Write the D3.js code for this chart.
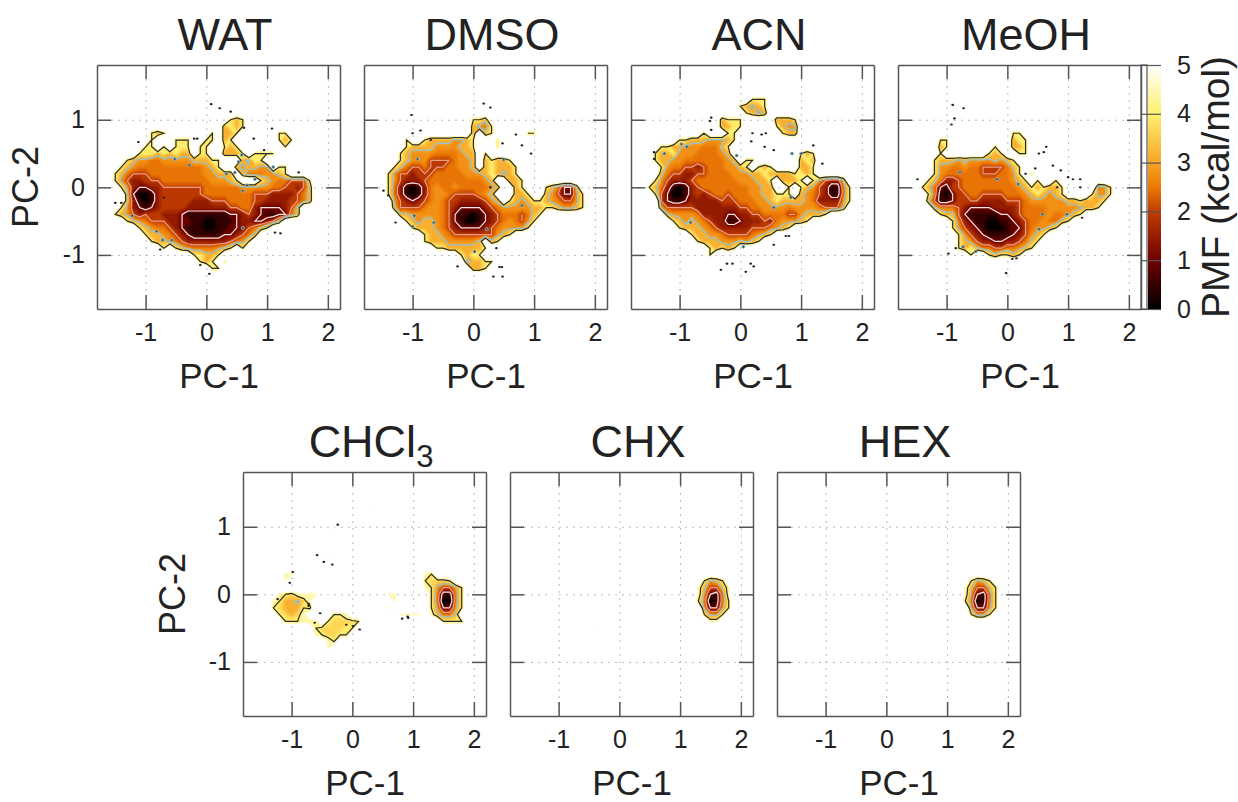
<!DOCTYPE html>
<html>
<head>
<meta charset="utf-8">
<script src="https://cdn.jsdelivr.net/npm/d3@7"></script>
<style>
body { margin: 0; background: #fff; }
text { font-family: "Liberation Sans", Arial, sans-serif; fill: #222; }
</style>
</head>
<body>
<svg id="chart" width="1238" height="802"></svg>
<script>
// PMF, one string per row from PC-2 = 1.4 down, step 0.1.
// first char is PC-1 = -1.7, step 0.1. char is a hex index in pmfLevels, "." = nothing sampled
var pmfLevels = [0, 0.5, 1, 1.5, 2, 2.5, 2.8, 3.2, 4, 4.5, 3.7];

var wat = ["", "", "", "",
	".....................878",
	"....................7878",
	"........878.......8.778......88",
	"........8...888..88.78.......878",
	".......88.8.888.88..878.......8",
	"......888787877.88..7778.8888",
	"....8766556666677788...7688",
	"...87655555555555678..767766.88",
	"..87544455555555566777.75556678",
	"..864334445555555566678...876554448",
	"...86322334444444555555666665544347",
	"....7200134444444555555554443333457",
	"....7310134444433344455554433334457",
	"...863212344443333333445532222347",
	"..8764344433321111111223432112257",
	"....87654443322110011123322347",
	"......8765543211100112234578",
	".......8776543211111223457",
	"........87765433333334568",
	"..........8.8765555678.8",
	"...............88778",
	"................878.8",
	"..................88"];

var dmso = ["", "", "", "",
	".................887",
	".................7658",
	".................7.78.....88",
	"......8..877776678...8",
	"......877776666778...8",
	".....8766665555677.8",
	".....8766644445667.78778",
	"....87544544455667.787778",
	"...8644344455555666787678",
	"...864333455555555567..778",
	"...8531013565565555567..78...875227",
	"...853101356654444567...778..7642268",
	"....643234565443333467.8767887654468",
	"....74444566543222234566666778876678",
	".....776666654211012345554578",
	"......8767765421001234565468",
	".......87776543222234566668",
	".........877654444444678",
	".........8777666667.78",
	"...........887777778",
	"...............8788",
	"................67788",
	".................778"];

var acn = ["",
	"...................888",
	".................87678",
	"..................8767",
	"..............7888.....7778",
	"..............7788.....8766",
	"...........8...88.......877",
	".......8877766678",
	"....887766655578",
	"...8778666555567...........878",
	"...87766555555567.88.......787",
	"....865544345556678.878....778",
	"....75443344555566677877778878",
	"...86433345555555666778.7778.864337",
	"..875310134555555556677..8.876431158",
	"...84200134345545556677888.765431158",
	"....42112333334445556678777765333368",
	"....6444443333333445566665666654447",
	".....766665333322334455554467778",
	"......87676543311233343566678",
	".......8777654333334445678",
	".........87766544445678",
	"..........87776667678",
	"............87878",
	"............8"];

var meoh = ["", "", "", "", "", "",
	"..................88",
	"......88..........788",
	"......78.......8..778",
	"......8.......878..88",
	".....87776766667678",
	".....866556554444578",
	".....865555554445568.8",
	"....87533455555555678.8..8",
	"...875214455555555567878778.....568",
	"....85102445544445556787678....8668",
	"....741124444333344456666667787778",
	".....7555432222333345555666666778",
	"......877421111122345555655678",
	"........85321100112345565578",
	"........864321000122456678",
	".........864321111234678",
	".........87643322334578",
	".........8787554455678",
	"...........8..878878"];

var chcl3 = ["",
	"....................9",
	"", "",
	"..............9",
	"", "", "",
	".............9",
	"", "",
	"......99.....................98",
	"......9......................8aaa8",
	".............................9864468",
	".....98a9999...........99.....851158",
	"....98776a9.............9.....850058",
	"....8a7778a............9......862268",
	".....8a7a9....889........9999.97557",
	"......888989.8aaaa8.............8888",
	"...........8aaaa88",
	"...........98aa88",
	".............98",
	".............9"];

var chx = ["", "", "", "", "", "", "", "", "", "", "", "",
	"...............................8678",
	"..............................974479",
	"......9.......................962159",
	"..............................850158",
	"...............................62268",
	"...............................8668",
	"................................99",
	".............9"];

var hex = ["", "", "", "", "", "", "", "", "", "", "", "",
	"...............................8678",
	"..............................974478",
	"..............................962158",
	"..............................850158",
	"...............................62268",
	"...............................8668"];

// little isolated dots outside the main basin [PC-1, PC-2]
var watSpecks = [[0.22,1.17],[0.4,1.12],[0.08,1.23],[1.08,0.87],[0.95,0.55],[1.52,0.22],[-1.4,-0.23],[-1.5,-0.23],[-0.7,-0.15],[0.05,-1.28],[-0.1,-1.15],[-0.76,-0.92],[1.13,-0.67],[1.22,-0.68],[0.62,0.88],[0.78,0.72],[-1.12,0.67],[-0.2,0.72],[-0.15,0.72]];
var dmsoSpecks = [[0.17,1.24],[0.28,1.18],[-1.02,1.07],[-1.0,0.8],[-0.7,0.7],[-1.48,-0.05],[-1.4,-0.12],[-0.26,-1.17],[0.43,-1.18],[0.47,-1.18],[0.33,-1.32],[0.48,-1.32],[0.7,0.78],[0.48,0.65],[0.8,0.62],[0.95,0.5],[0.28,0.0],[0.38,-0.9],[-1.28,-0.52],[-0.87,0.84]];
var acnSpecks = [[-0.48,1.03],[-0.5,0.98],[-0.48,0.85],[0.2,0.8],[0.35,0.78],[0.42,0.8],[0.18,0.68],[0.4,0.6],[0.55,0.55],[-1.42,0.52],[-1.42,0.42],[-0.22,-1.13],[-0.13,-1.13],[0.17,-1.13],[0.22,-1.17],[0.09,-1.25],[-0.32,-1.22],[0.55,-0.85],[0.75,-0.72],[0.8,-0.72],[1.35,0.35],[1.2,0.62]];
var meohSpecks = [[-0.87,1.02],[-0.92,0.93],[-0.72,1.17],[-0.9,1.22],[0.6,0.52],[0.64,0.6],[0.75,0.32],[0.52,0.5],[0.46,0.28],[0.3,0.2],[0.88,0.25],[1.0,0.15],[1.2,0.12],[1.08,0.12],[-0.85,-0.9],[-0.97,-0.98],[-0.02,-1.27],[0.15,-1.05],[0.08,-1.06],[1.23,-0.45],[0.82,0.0],[1.2,0.0],[-1.48,0.12]];
var chcl3Specks = [[-0.24,1.03],[-0.58,0.58],[-0.47,0.48],[-0.33,0.44],[-0.98,0.33],[-1.03,0.17],[0.92,-0.35],[0.91,-0.33],[-0.72,-0.14],[-0.72,-0.17],[-0.53,-0.28],[-0.62,-0.42],[-0.1,-0.45],[0.01,-0.47],[0.12,-0.52],[-1.23,-0.07],[0.82,-0.36]];
var noSpecks = [];

// ringed dots inside the basins
var watRings = [[-0.52,0.42],[0.58,0.48],[0.53,0.38],[0.47,0.22],[0.33,0.2],[-0.28,0.33],[0.8,0.12],[0.67,0.03],[0.6,-0.05],[-1.22,-0.42],[-0.82,-0.65],[-0.57,-0.78],[-0.72,-0.78],[0.6,-0.6],[1.1,0.3]];
var dmsoRings = [[-0.92,0.42],[-0.65,-0.52],[-0.97,-0.42],[-1.0,-0.58],[0.8,-0.27],[0.22,-0.62],[0.02,-0.95],[0.5,0.41]];
var acnRings = [[-0.97,0.64],[-0.88,0.6],[-1.25,0.5],[-0.06,0.47],[0.85,0.5],[0.83,-0.15],[0.55,-0.3],[0.05,-0.88],[-0.82,-0.52],[1.0,0.5]];
var meohRings = [[-0.78,0.22],[-0.17,0.12],[0.18,0.05],[0.58,-0.4],[0.98,-0.4],[0.52,-0.62],[-0.73,-0.88],[-0.52,-0.95]];

var panelNames = ["WAT", "DMSO", "ACN", "MeOH", "CHCl", "CHX", "HEX"];
var panelGrids = [wat, dmso, acn, meoh, chcl3, chx, hex];
var panelSpecks = [watSpecks, dmsoSpecks, acnSpecks, meohSpecks, chcl3Specks, noSpecks, noSpecks];
var panelRings = [watRings, dmsoRings, acnRings, meohRings, noSpecks, noSpecks, noSpecks];

var xTicks = [-1, 0, 1, 2];
var yTicks = [-1, 0, 1];
var barTicks = [0, 1, 2, 3, 4, 5];
var contourLevels = [4, 3, 2, 1];
var contourColours = ["#2a2a2a", "#8fc6d6", "#ea9c86", "#f5e6e4"];
var pmfStops = [0, 1, 2, 2.5, 3, 4, 5];
var pmfColours = ["#000000", "#6e0000", "#bf3c00", "#ec7a05", "#f8a526", "#fff06e", "#ffffff"];

var nCols = 37, nRows = 29;
var panelW = 243, panelH = 244;

var svg = d3.select("#chart");

var colour = d3.scaleLinear().domain(pmfStops).range(pmfColours).clamp(true);
var contours = d3.contours().size([nCols, nRows]).smooth(true);

function flatten(rows) {
	var out = [];
	for (var j = 0; j < nRows; j++) {
		var row = rows[j] || "";
		for (var i = 0; i < nCols; i++) {
			var c = row[i];
			var v = (c === undefined || c === ".") ? 6 : pmfLevels[parseInt(c, 16)];
			out.push(-v);   // d3.contours keeps values >= threshold, so flip
		}
	}
	return out;
}

function drawPanel(k, left, top, showY) {
	var x = d3.scaleLinear().domain([-1.8, 2.2]).range([left, left + panelW]);
	var y = d3.scaleLinear().domain([-1.8, 1.81]).range([top + panelH, top]);
	var g = svg.append("g");

	// dotted grid
	g.append("g").attr("transform", "translate(0," + top + ")")
		.call(d3.axisBottom(x).tickValues(xTicks).tickSize(panelH).tickFormat(""))
		.call(a => a.select(".domain").remove())
		.selectAll("line").attr("stroke", "#bbb").attr("stroke-dasharray", "2,5");
	g.append("g").attr("transform", "translate(" + left + ",0)")
		.call(d3.axisRight(y).tickValues(yTicks).tickSize(panelW).tickFormat(""))
		.call(a => a.select(".domain").remove())
		.selectAll("line").attr("stroke", "#bbb").attr("stroke-dasharray", "2,5");

	var values = flatten(panelGrids[k]);
	var path = d3.geoPath(d3.geoTransform({
		point: function(px, py) {
			this.stream.point(x(-1.7 + (px - 0.5) * 0.1), y(1.4 - (py - 0.5) * 0.1));
		}
	}));

	var heat = g.append("g").style("filter", "blur(0.6px)");
	var levels = d3.range(50, 0, -1).map(d => d / 10);
	heat.selectAll("path.band")
		.data(levels)
		.enter()
		.append("path")
			.attr("class", "band")
			.attr("d", t => path(contours.contour(values, -t)))
			.attr("fill", t => colour(t - 0.05));

	heat.selectAll("path.line")
		.data(contourLevels)
		.enter()
		.append("path")
			.attr("class", "line")
			.attr("d", t => path(contours.contour(values, -t)))
			.attr("fill", "none")
			.attr("stroke-width", 1.2)
			.attr("stroke", (t, i) => contourColours[i]);

	heat.selectAll("circle.ring")
		.data(panelRings[k])
		.enter()
		.append("circle")
			.attr("class", "ring")
			.attr("cx", d => x(d[0]))
			.attr("cy", d => y(d[1]))
			.attr("r", 1.5)
			.attr("fill", "#3c4a4c")
			.attr("stroke", "#8fc6d6")
			.attr("stroke-width", 0.8);

	heat.selectAll("ellipse.speck")
		.data(panelSpecks[k])
		.enter()
		.append("ellipse")
			.attr("class", "speck")
			.attr("cx", d => x(d[0]))
			.attr("cy", d => y(d[1]))
			.attr("rx", 1.4)
			.attr("ry", 1.1)
			.attr("fill", "#222");

	// frame and inward ticks on all four sides
	var tick = 14;
	var label = d => String(d);   // plain hyphen, like the original
	[
		d3.axisBottom(x).tickValues(xTicks).tickSize(-tick).tickSizeOuter(0).tickPadding(14).tickFormat(label),
		d3.axisTop(x).tickValues(xTicks).tickSize(-tick).tickSizeOuter(0).tickFormat(""),
		d3.axisLeft(y).tickValues(yTicks).tickSize(-tick).tickSizeOuter(0).tickPadding(12).tickFormat(showY ? label : ""),
		d3.axisRight(y).tickValues(yTicks).tickSize(-tick).tickSizeOuter(0).tickFormat("")
	].forEach(function(ax, i) {
		var pos = ["translate(0," + (top + panelH) + ")", "translate(0," + top + ")",
			"translate(" + left + ",0)", "translate(" + (left + panelW) + ",0)"][i];
		var a = g.append("g").attr("transform", pos).call(ax);
		a.selectAll("line, path").attr("stroke", "#555").attr("stroke-width", 1.5);
		a.selectAll("text").attr("font-size", 25).style("fill", "#222");
	});

	g.append("text")
		.attr("x", left + 122).attr("y", top + panelH + 79)
		.attr("text-anchor", "middle").attr("font-size", 35)
		.text("PC-1");

	var title = g.append("text")
		.attr("x", left + 128).attr("y", top - 15)
		.attr("text-anchor", "middle").attr("font-size", 45)
		.text(panelNames[k]);
	if (panelNames[k] == "CHCl") {
		title.append("tspan").attr("dy", 10).attr("font-size", 31).text("3");
	}
}

var topLefts = [97, 364, 631, 898];
var bottomLefts = [243, 510, 777];
topLefts.forEach((l, i) => drawPanel(i, l, 65, i == 0));
bottomLefts.forEach((l, i) => drawPanel(i + 4, l, 472, i == 0));

svg.append("text")
	.attr("transform", "translate(38,187) rotate(-90)")
	.attr("text-anchor", "middle").attr("font-size", 36)
	.text("PC-2");
svg.append("text")
	.attr("transform", "translate(185,594) rotate(-90)")
	.attr("text-anchor", "middle").attr("font-size", 36)
	.text("PC-2");

// colour bar
var barScale = d3.scaleLinear().domain([0, 5]).range([309, 65]);
var defs = svg.append("defs");
var grad = defs.append("linearGradient").attr("id", "pmf")
	.attr("x1", 0).attr("y1", 1).attr("x2", 0).attr("y2", 0);
grad.selectAll("stop")
	.data(pmfStops)
	.enter()
	.append("stop")
		.attr("offset", d => d / 5)
		.attr("stop-color", d => colour(d));
svg.append("rect")
	.attr("x", 1148).attr("y", barScale(5))
	.attr("width", 13).attr("height", barScale(0) - barScale(5))
	.attr("fill", "url(#pmf)");
svg.append("rect")
	.attr("x", 1141).attr("y", barScale(5))
	.attr("width", 6).attr("height", barScale(0) - barScale(5))
	.attr("fill", "none").attr("stroke", "#555").attr("stroke-width", 1.2);

var barAxis = svg.append("g").attr("transform", "translate(1141,0)")
	.call(d3.axisRight(barScale).tickValues(barTicks).tickSize(20).tickSizeOuter(0).tickPadding(16).tickFormat(d => String(d)));
barAxis.select(".domain").remove();
barAxis.selectAll("line").attr("stroke", "#555").attr("stroke-width", 1.2);
barAxis.selectAll("text").attr("font-size", 25).style("fill", "#222");

svg.append("text")
	.attr("transform", "translate(1229,187) rotate(-90)")
	.attr("text-anchor", "middle").attr("font-size", 39)
	.text("PMF (kcal/mol)");
</script>
</body>
</html>
